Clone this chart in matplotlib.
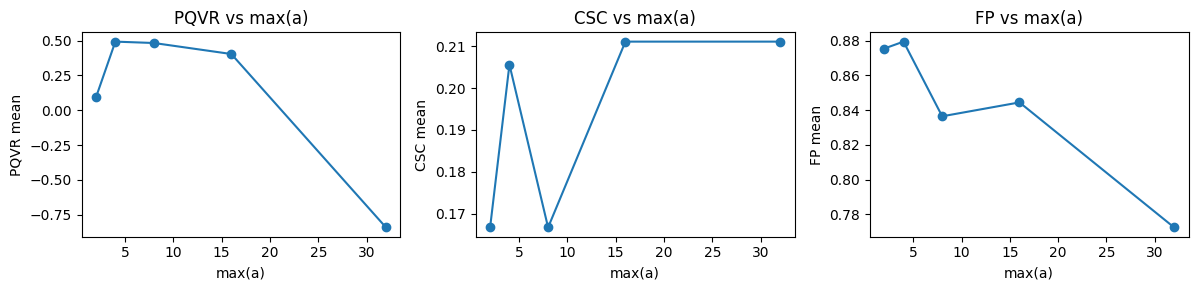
import matplotlib
matplotlib.use("Agg")
import matplotlib.pyplot as plt

# max(a) values on the x axis
max_a = [2, 4, 8, 16, 32]

# mean metric per max(a)
pqvr_mean = [0.094, 0.493, 0.483, 0.404, -0.841]
csc_mean = [0.1667, 0.2056, 0.1667, 0.2111, 0.2111]
fp_mean = [0.8754, 0.8794, 0.8364, 0.8444, 0.7724]

metrics = ["PQVR", "CSC", "FP"]
series = [pqvr_mean, csc_mean, fp_mean]

fig, axes = plt.subplots(1, 3, figsize=(12, 3), dpi=100)
for ax, name, vals in zip(axes, metrics, series):
    ax.plot(max_a, vals, marker="o")
    ax.set_title(f"{name} vs max(a)")
    ax.set_xlabel("max(a)")
    ax.set_ylabel(f"{name} mean")

plt.tight_layout()
plt.savefig("out.png", bbox_inches="tight")
